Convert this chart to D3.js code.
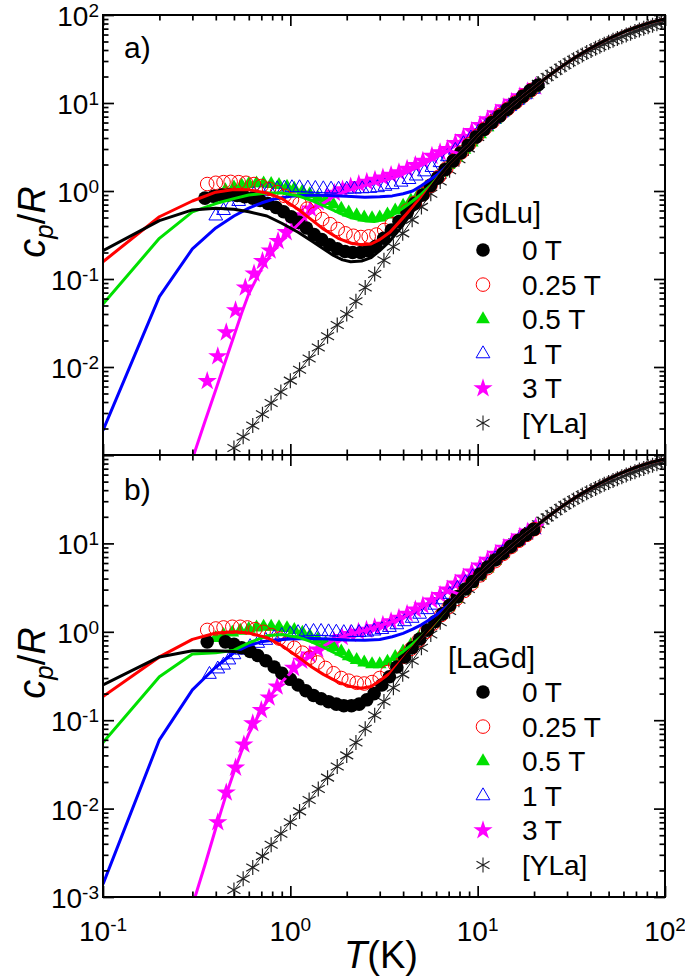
<!DOCTYPE html>
<html><head><meta charset="utf-8">
<script src="https://cdn.jsdelivr.net/npm/d3@7"></script>
<style>body{margin:0;background:#fff} svg{display:block} text{font-family:Arial,"Liberation Sans",sans-serif;fill:#000}</style>
</head><body><svg id="c" width="685" height="979"></svg>
<script>
// ---------------- DATA (T in K, cp/R) ----------------
const xMajor = [0.1, 1, 10, 100];
const xMajorExp = ["-1", "0", "1", "2"];
const yMajor = [0.001, 0.01, 0.1, 1, 10, 100];
const yMajorExp = ["-3", "-2", "-1", "0", "1", "2"];
const panelNames = ["a)", "b)"];
const legendTitles = ["[GdLu]", "[LaGd]"];
const seriesLabels = ["0 T", "0.25 T", "0.5 T", "1 T", "3 T", "[YLa]"];

// lattice reference [YLa] (both panels)
const lattice = [[0.50,0.0012],[0.56,0.00161],[0.63,0.00216],[0.71,0.0029],[0.79,0.0039],[0.89,0.0052],[1.00,0.0070],[1.12,0.0093],[1.26,0.0125],[1.41,0.0167],[1.58,0.0224],[1.78,0.030],[2.00,0.040],[2.24,0.056],[2.51,0.080],[2.82,0.114],[3.16,0.163],[3.55,0.233],[3.98,0.33],[4.47,0.47],[5.01,0.66],[5.62,0.93],[6.31,1.28],[7.08,1.72],[7.94,2.3],[8.91,3.05],[10.0,4.1],[11.2,5.3],[12.6,6.8],[14.1,8.4],[15.8,10.3],[17.8,12.6],[20.0,15.0],[21.1,16.5],[22.3,18.1],[23.5,19.7],[24.8,21.4],[26.2,23.3],[27.7,25.2],[29.2,27.1],[30.8,29.0],[32.5,31.0],[34.3,33.1],[36.2,35.2],[38.2,37.4],[40.3,39.6],[42.6,41.9],[44.9,44.2],[47.4,46.6],[50.0,49.0],[52.8,51.5],[55.7,54.0],[58.8,56.6],[62.1,59.3],[65.5,62.0],[69.1,64.8],[73.0,67.6],[77.0,70.5],[81.3,73.5],[85.8,76.5],[90.5,79.6],[95.6,82.8],[100,85.5]];

// common high-temperature tail of all fit curves
const highTail = [[8,2.65],[9,3.35],[10,4.3],[12,6.1],[14,8.1],[16,10.3],[18,12.6],[20,15.0],[22.3,18.1],[25,21.8],[28,25.9],[31.6,30.8],[35.5,36.1],[39.8,41.6],[44.7,47.6],[50,53.7],[56,60],[63,66.7],[70.8,73.1],[79.4,79.3],[89,85.1],[100,90.4]];

// ---- panel a) [GdLu] ----
const a_0T = [[0.35,0.83],[0.39,0.87],[0.43,0.90],[0.47,0.90],[0.52,0.89],[0.57,0.86],[0.63,0.83],[0.69,0.78],[0.76,0.72],[0.84,0.65],[0.92,0.58],[1.01,0.51],[1.11,0.44],[1.22,0.38],[1.34,0.32],[1.47,0.28],[1.62,0.245],[1.78,0.22],[1.96,0.205],[2.15,0.2],[2.37,0.2],[2.6,0.21],[2.86,0.235],[3.15,0.29],[3.46,0.36],[3.8,0.45],[4.2,0.57],[4.6,0.72],[5.1,0.9],[5.6,1.15],[6.1,1.4],[6.7,1.75],[7.4,2.2],[8.1,2.7],[8.9,3.3],[9.8,4.1],[10.8,5.0],[11.9,6.0],[13.1,7.1],[14.4,8.5],[15.8,10.0],[17.4,11.9],[19.1,13.9],[21,16.0]];
const a_025T = [[0.36,1.2],[0.40,1.24],[0.44,1.26],[0.48,1.27],[0.53,1.26],[0.58,1.24],[0.64,1.2],[0.7,1.14],[0.77,1.06],[0.85,0.97],[0.93,0.88],[1.02,0.8],[1.12,0.72],[1.23,0.63],[1.35,0.55],[1.48,0.48],[1.63,0.42],[1.79,0.37],[1.97,0.33],[2.17,0.31],[2.38,0.30],[2.62,0.305],[2.88,0.32],[3.17,0.36],[3.48,0.42],[3.83,0.5],[4.2,0.6],[4.6,0.73],[5.1,0.92],[5.6,1.15],[6.2,1.45],[6.8,1.8],[7.5,2.25],[8.2,2.75],[9.0,3.4],[9.9,4.2],[10.9,5.1],[12.0,6.1],[13.2,7.3],[14.5,8.6],[16,10.2],[17.6,12.1],[19.4,14.1]];
const a_05T = [[0.45,1.02],[0.5,1.1],[0.55,1.16],[0.6,1.2],[0.66,1.22],[0.72,1.22],[0.79,1.2],[0.87,1.17],[0.96,1.12],[1.05,1.06],[1.16,0.99],[1.27,0.92],[1.4,0.84],[1.54,0.77],[1.7,0.7],[1.87,0.63],[2.05,0.57],[2.26,0.53],[2.48,0.5],[2.73,0.49],[3.0,0.5],[3.3,0.54],[3.63,0.6],[4.0,0.68],[4.4,0.78],[4.84,0.92],[5.3,1.1],[5.8,1.33],[6.4,1.62],[7.0,1.97],[7.7,2.4],[8.5,2.95],[9.3,3.55],[10.3,4.4],[11.3,5.3],[12.4,6.4],[13.7,7.8],[15,9.2],[16.5,10.8],[18.2,12.6],[20,14.6]];
const a_1T = [[0.4,0.52],[0.44,0.6],[0.48,0.68],[0.53,0.76],[0.58,0.84],[0.64,0.92],[0.7,0.98],[0.77,1.03],[0.85,1.06],[0.93,1.08],[1.02,1.09],[1.12,1.09],[1.24,1.08],[1.36,1.07],[1.5,1.06],[1.65,1.05],[1.81,1.05],[2.0,1.05],[2.2,1.05],[2.42,1.06],[2.66,1.07],[2.92,1.09],[3.2,1.13],[3.5,1.18],[3.9,1.26],[4.3,1.35],[4.7,1.48],[5.2,1.65],[5.7,1.85],[6.3,2.1],[6.9,2.45],[7.6,2.9],[8.4,3.45],[9.2,4.0],[10.1,4.7],[11.1,5.5],[12.2,6.5],[13.4,7.7],[14.8,9.1],[16.3,10.7],[17.9,12.4],[19.7,14.3]];
const a_3T = [[0.36,0.0069],[0.41,0.0132],[0.455,0.0247],[0.51,0.044],[0.575,0.08],[0.64,0.115],[0.71,0.16],[0.78,0.21],[0.86,0.27],[0.95,0.34],[1.05,0.43],[1.16,0.53],[1.28,0.63],[1.41,0.74],[1.56,0.85],[1.72,0.95],[1.9,1.04],[2.1,1.12],[2.32,1.2],[2.56,1.27],[2.83,1.34],[3.12,1.42],[3.45,1.52],[3.8,1.63],[4.2,1.78],[4.65,1.97],[5.1,2.2],[5.7,2.5],[6.3,2.75],[6.9,3.0],[7.6,3.5],[8.4,4.1],[9.3,4.8],[10.3,5.6],[11.3,6.5],[12.5,7.6],[13.8,8.9],[15.2,10.3],[16.8,11.9],[18.5,13.6],[20.4,15.4]];
const a_fit0T = [[0.1,0.21],[0.2,0.46],[0.3,0.61],[0.4,0.635],[0.5,0.62],[0.6,0.58],[0.75,0.52],[0.9,0.43],[1.1,0.34],[1.3,0.27],[1.5,0.22],[1.7,0.185],[1.9,0.165],[2.1,0.157],[2.4,0.16],[2.7,0.175],[3.0,0.21],[3.4,0.27],[3.8,0.36],[4.2,0.48],[4.6,0.62],[5.1,0.82],[5.6,1.08],[6.2,1.45],[7.0,2.0]];
const a_fit025T = [[0.1,0.157],[0.2,0.51],[0.3,0.77],[0.4,0.97],[0.5,1.04],[0.6,1.03],[0.75,0.95],[0.9,0.82],[1.1,0.62],[1.3,0.47],[1.5,0.37],[1.8,0.29],[2.1,0.255],[2.4,0.245],[2.7,0.25],[3.0,0.28],[3.4,0.34],[3.8,0.44],[4.2,0.56],[4.6,0.7],[5.1,0.88],[5.6,1.1],[6.2,1.45],[7.0,2.0]];
const a_fit05T = [[0.1,0.052],[0.2,0.29],[0.3,0.58],[0.4,0.72],[0.5,0.82],[0.6,0.9],[0.75,0.95],[0.9,0.95],[1.1,0.88],[1.3,0.78],[1.5,0.68],[1.8,0.57],[2.1,0.5],[2.5,0.46],[2.8,0.45],[3.1,0.47],[3.5,0.53],[4.0,0.64],[4.5,0.77],[5.0,0.92],[5.6,1.15],[6.2,1.47],[7.0,2.0]];
const a_fit1T = [[0.1,0.0019],[0.2,0.063],[0.3,0.22],[0.4,0.38],[0.5,0.52],[0.6,0.64],[0.7,0.73],[0.8,0.8],[1.0,0.87],[1.3,0.9],[1.6,0.89],[2.0,0.87],[2.5,0.85],[3.0,0.86],[3.5,0.88],[4.0,0.93],[4.5,1.0],[5.0,1.15],[5.5,1.32],[6.0,1.5],[7.0,2.0]];
const a_fit3T = [[0.305,0.001],[0.35,0.0024],[0.4,0.0055],[0.45,0.0116],[0.5,0.0225],[0.55,0.041],[0.6,0.068],[0.7,0.13],[0.8,0.2],[0.9,0.27],[1.0,0.34],[1.2,0.5],[1.4,0.66],[1.7,0.86],[2.0,1.0],[2.5,1.15],[3.0,1.27],[3.5,1.4],[4.0,1.55],[5.0,1.95],[6.0,2.4],[7.0,2.9]];

// ---- panel b) [LaGd] ----
const b_0T = [[0.36,0.77],[0.45,0.77],[0.5,0.72],[0.55,0.66],[0.61,0.6],[0.67,0.54],[0.74,0.47],[0.82,0.4],[0.9,0.34],[1.0,0.29],[1.1,0.25],[1.21,0.215],[1.33,0.19],[1.46,0.175],[1.6,0.162],[1.76,0.152],[1.93,0.146],[2.12,0.146],[2.33,0.152],[2.56,0.17],[2.8,0.2],[3.08,0.25],[3.38,0.31],[3.7,0.4],[4.07,0.52],[4.47,0.66],[4.9,0.83],[5.4,1.05],[5.9,1.3],[6.5,1.6],[7.1,2.0],[7.8,2.5],[8.6,3.05],[9.4,3.7],[10.3,4.5],[11.3,5.4],[12.4,6.5],[13.6,7.7],[15,9.2],[16.5,10.8],[18.1,12.5],[19.9,14.4]];
const b_025T = [[0.36,1.05],[0.40,1.09],[0.44,1.12],[0.49,1.14],[0.54,1.14],[0.59,1.12],[0.65,1.07],[0.72,1.0],[0.79,0.92],[0.87,0.84],[0.96,0.75],[1.05,0.66],[1.16,0.58],[1.27,0.51],[1.4,0.45],[1.54,0.39],[1.7,0.34],[1.87,0.3],[2.05,0.28],[2.26,0.265],[2.48,0.26],[2.73,0.27],[3.0,0.3],[3.3,0.35],[3.63,0.42],[4.0,0.52],[4.4,0.64],[4.84,0.8],[5.3,1.0],[5.8,1.24],[6.4,1.55],[7.0,1.9],[7.7,2.35],[8.5,2.9],[9.3,3.5],[10.3,4.35],[11.3,5.25],[12.4,6.3],[13.7,7.6],[15.1,9.1],[16.6,10.7],[18.3,12.5],[20.1,14.5]];
const b_05T = [[0.4,0.85],[0.44,0.92],[0.49,0.98],[0.54,1.03],[0.6,1.08],[0.66,1.12],[0.72,1.14],[0.79,1.14],[0.87,1.13],[0.96,1.1],[1.05,1.05],[1.16,0.98],[1.27,0.9],[1.4,0.82],[1.54,0.74],[1.7,0.67],[1.87,0.6],[2.05,0.53],[2.26,0.48],[2.48,0.45],[2.73,0.43],[3.0,0.43],[3.3,0.46],[3.63,0.52],[4.0,0.6],[4.4,0.71],[4.84,0.85],[5.3,1.03],[5.8,1.25],[6.4,1.55],[7.0,1.9],[7.7,2.35],[8.5,2.9],[9.3,3.5],[10.3,4.3],[11.3,5.2],[12.4,6.3],[13.7,7.6],[15,9.0],[16.5,10.6],[18.2,12.3],[20,14.2]];
const b_1T = [[0.37,0.33],[0.41,0.38],[0.44,0.42],[0.47,0.48],[0.5,0.55],[0.55,0.62],[0.61,0.68],[0.67,0.74],[0.74,0.8],[0.82,0.86],[0.9,0.91],[1.0,0.95],[1.1,0.98],[1.21,1.0],[1.33,1.01],[1.46,1.01],[1.6,1.0],[1.76,0.99],[1.93,0.98],[2.12,0.98],[2.33,0.98],[2.56,0.99],[2.8,1.02],[3.08,1.06],[3.38,1.12],[3.7,1.2],[4.07,1.3],[4.47,1.42],[4.9,1.58],[5.4,1.78],[5.9,2.0],[6.5,2.3],[7.1,2.65],[7.8,3.1],[8.6,3.6],[9.4,4.2],[10.3,4.9],[11.3,5.7],[12.4,6.7],[13.6,7.9],[15,9.3],[16.5,10.8],[18.1,12.5],[19.9,14.4]];
const b_3T = [[0.41,0.007],[0.455,0.0152],[0.51,0.029],[0.565,0.053],[0.63,0.092],[0.7,0.13],[0.77,0.18],[0.85,0.24],[0.94,0.31],[1.04,0.39],[1.15,0.47],[1.27,0.55],[1.4,0.63],[1.55,0.71],[1.71,0.79],[1.89,0.87],[2.09,0.94],[2.31,1.0],[2.55,1.05],[2.82,1.12],[3.12,1.2],[3.45,1.31],[3.8,1.44],[4.2,1.6],[4.65,1.78],[5.1,1.98],[5.7,2.25],[6.3,2.6],[6.9,3.0],[7.6,3.5],[8.4,4.1],[9.3,4.8],[10.3,5.6],[11.3,6.5],[12.5,7.6],[13.8,8.9],[15.2,10.3],[16.8,11.9],[18.5,13.6],[20.4,15.4]];
const b_fit0T = [[0.1,0.25],[0.2,0.52],[0.3,0.61],[0.4,0.61],[0.5,0.6],[0.6,0.57],[0.7,0.5],[0.8,0.41],[0.9,0.34],[1.0,0.29],[1.2,0.215],[1.4,0.18],[1.6,0.16],[1.9,0.145],[2.1,0.143],[2.4,0.152],[2.7,0.18],[3.0,0.23],[3.4,0.31],[3.8,0.42],[4.2,0.55],[4.6,0.69],[5.0,0.86],[5.5,1.1],[6.2,1.45],[7.0,1.95]];
const b_fit025T = [[0.1,0.185],[0.2,0.52],[0.3,0.82],[0.4,0.97],[0.5,1.0],[0.6,0.97],[0.75,0.86],[0.9,0.7],[1.1,0.52],[1.3,0.4],[1.5,0.33],[1.8,0.27],[2.1,0.24],[2.4,0.23],[2.7,0.24],[3.0,0.28],[3.4,0.34],[3.8,0.44],[4.2,0.56],[4.6,0.7],[5.1,0.9],[5.6,1.12],[6.2,1.45],[7.0,1.95]];
const b_fit05T = [[0.1,0.056],[0.2,0.31],[0.3,0.56],[0.4,0.58],[0.5,0.62],[0.6,0.75],[0.75,0.9],[0.9,0.93],[1.1,0.87],[1.3,0.77],[1.5,0.67],[1.8,0.55],[2.1,0.47],[2.5,0.42],[2.8,0.41],[3.1,0.43],[3.5,0.49],[4.0,0.6],[4.5,0.73],[5.0,0.88],[5.6,1.1],[6.2,1.42],[7.0,1.95]];
const b_fit1T = [[0.1,0.0014],[0.2,0.06],[0.3,0.22],[0.4,0.4],[0.5,0.58],[0.6,0.7],[0.7,0.77],[0.8,0.8],[1.0,0.83],[1.3,0.84],[1.6,0.83],[2.0,0.81],[2.5,0.8],[3.0,0.82],[3.5,0.88],[4.0,0.96],[4.5,1.07],[5.0,1.2],[5.5,1.36],[6.0,1.55],[7.0,2.0]];
const b_fit3T = [[0.31,0.001],[0.35,0.0023],[0.4,0.006],[0.45,0.0135],[0.5,0.026],[0.55,0.045],[0.6,0.07],[0.7,0.13],[0.8,0.2],[0.9,0.27],[1.0,0.34],[1.2,0.5],[1.4,0.63],[1.7,0.8],[2.0,0.92],[2.5,1.04],[3.0,1.17],[3.5,1.3],[4.0,1.45],[5.0,1.9],[6.0,2.4],[7.0,2.95]];

// ---------------- LAYOUT ----------------
const colors = {k:"#000000", r:"#ff0000", g:"#00e000", b:"#0000ff", m:"#ff00ff", y:"#222222"};
const svg = d3.select("#c");
const x = d3.scaleLog().domain([0.1, 100]).range([103, 665]);
const panels = [
  {top:15, bottom:455, data:[a_0T,a_025T,a_05T,a_1T,a_3T], fits:[a_fit0T,a_fit025T,a_fit05T,a_fit1T,a_fit3T],
   yLabels:[0.01,0.1,1,10,100], legendY:250, titleY:223, titleX:454, labelY:58, ytitleY:222},
  {top:455, bottom:897, data:[b_0T,b_025T,b_05T,b_1T,b_3T], fits:[b_fit0T,b_fit025T,b_fit05T,b_fit1T,b_fit3T],
   yLabels:[0.001,0.01,0.1,1,10], legendY:692, titleY:668, titleX:448, labelY:500, ytitleY:663}
];

function minorTicks(lo, hi){
  const out=[];
  for(let e=Math.round(Math.log10(lo)); e<Math.round(Math.log10(hi)); e++)
    for(let m=2;m<=9;m++) out.push(m*Math.pow(10,e));
  return out;
}
const xMinor = minorTicks(0.1,100);
const yMinor = minorTicks(0.001,100);

function asteriskPath(s){
  const a = s*Math.cos(Math.PI/6), b = s*Math.sin(Math.PI/6);
  return `M0,${-s}L0,${s}M${-a},${-b}L${a},${b}M${-a},${b}L${a},${-b}`;
}
const sym = {
  circle: d3.symbol().type(d3.symbolCircle).size(145)(),
  tri: d3.symbol().type(d3.symbolTriangle).size(82)(),
  star: d3.symbol().type(d3.symbolStar).size(115)(),
  ast: asteriskPath(7.5)
};
const styles = [
  {p:sym.circle, fill:colors.k, stroke:"none", sw:0},
  {p:sym.circle, fill:"none", stroke:colors.r, sw:1},
  {p:sym.tri, fill:colors.g, stroke:"none", sw:0},
  {p:sym.tri, fill:"none", stroke:colors.b, sw:1},
  {p:sym.star, fill:colors.m, stroke:"none", sw:0},
  {p:sym.ast, fill:"none", stroke:colors.y, sw:1.1}
];
const fitColors = [colors.k, colors.r, colors.g, colors.b, colors.m];

panels.forEach((P,pi)=>{
  const y = d3.scaleLog().domain([0.001,100]).range([P.bottom, P.top]);
  const g = svg.append("g");
  const clipId = "clip"+pi;
  svg.append("clipPath").attr("id",clipId).append("rect")
    .attr("x",103).attr("y",P.top).attr("width",562).attr("height",P.bottom-P.top);
  const plot = g.append("g").attr("clip-path",`url(#${clipId})`);
  const line = d3.line().x(d=>x(d[0])).y(d=>y(d[1]));

  // lattice thin line + asterisks
  plot.append("path").attr("d",line(lattice)).attr("fill","none").attr("stroke","#000").attr("stroke-width",0.9);
  plot.selectAll(".ast").data(lattice).enter().append("path")
    .attr("d",sym.ast).attr("transform",d=>`translate(${x(d[0])},${y(d[1])})`)
    .attr("fill","none").attr("stroke",colors.y).attr("stroke-width",1.2);

  // data markers (drawn 3T, 0.5T, 1T, 0.25T, 0T)
  [4,2,3,1,0].forEach(si=>{
    const st = styles[si];
    plot.append("g").selectAll("path").data(P.data[si]).enter().append("path")
      .attr("d",st.p).attr("transform",d=>`translate(${x(d[0])},${y(d[1])})`)
      .attr("fill",st.fill).attr("stroke",st.stroke).attr("stroke-width",st.sw);
  });

  // fit lines
  [4,3,2,1,0].forEach(si=>{
    const pts = P.fits[si].concat(highTail);
    plot.append("path").attr("d",line(pts)).attr("fill","none")
      .attr("stroke",fitColors[si]).attr("stroke-width",3).attr("stroke-linejoin","round");
  });

  // axes (inward ticks)
  const axG = g.append("g");
  const mk = (axis, tx, ty) => {
    const a = axG.append("g").attr("transform",`translate(${tx},${ty})`).call(axis);
    a.select(".domain").remove();
    a.selectAll("line").attr("stroke","#000").attr("stroke-width",1.7);
    a.selectAll("text").remove();
  };
  mk(d3.axisBottom(x).tickValues(xMajor).tickSize(-11), 0, P.bottom);
  mk(d3.axisBottom(x).tickValues(xMinor).tickSize(-5.5), 0, P.bottom);
  mk(d3.axisTop(x).tickValues(xMajor).tickSize(-11), 0, P.top);
  mk(d3.axisTop(x).tickValues(xMinor).tickSize(-5.5), 0, P.top);
  mk(d3.axisLeft(y).tickValues(yMajor).tickSize(-11), 103, 0);
  mk(d3.axisLeft(y).tickValues(yMinor).tickSize(-5.5), 103, 0);
  mk(d3.axisRight(y).tickValues(yMajor).tickSize(-11), 665, 0);
  mk(d3.axisRight(y).tickValues(yMinor).tickSize(-5.5), 665, 0);
  g.append("rect").attr("x",103).attr("y",P.top).attr("width",562).attr("height",P.bottom-P.top)
    .attr("fill","none").attr("stroke","#000").attr("stroke-width",2);

  // y tick labels
  P.yLabels.forEach(v=>{
    const e = yMajorExp[yMajor.indexOf(v)];
    const t = g.append("text").attr("x",99).attr("y",y(v)+11).attr("text-anchor","end").attr("font-size",28);
    t.append("tspan").text("10");
    t.append("tspan").attr("dy",-9).attr("font-size",19).text(e);
  });

  // panel label
  g.append("text").attr("x",124).attr("y",P.labelY).attr("font-size",30).text(panelNames[pi]);

  // y title
  const yt = g.append("text").attr("transform",`translate(45,${P.ytitleY}) rotate(-90)`)
    .attr("text-anchor","middle").attr("font-size",38);
  yt.append("tspan").attr("font-style","italic").text("c");
  yt.append("tspan").attr("font-style","italic").attr("font-size",26).attr("dy",8).text("p");
  yt.append("tspan").attr("dy",-8).text("/");
  yt.append("tspan").attr("font-style","italic").text("R");

  // legend
  g.append("text").attr("x",P.titleX).attr("y",P.titleY).attr("font-size",29).text(legendTitles[pi]);
  seriesLabels.forEach((lab,i)=>{
    const cy = P.legendY + i*34.6;
    const st = styles[i];
    g.append("path").attr("d",st.p).attr("transform",`translate(483,${cy})`)
      .attr("fill",st.fill).attr("stroke",st.stroke).attr("stroke-width",st.sw);
    g.append("text").attr("x",522).attr("y",cy+10).attr("font-size",28).text(lab);
  });
});

// x tick labels
const xb = 897;
xMajor.forEach((v,i)=>{
  const t = svg.append("text").attr("x",x(v)).attr("y",xb+44).attr("text-anchor","middle").attr("font-size",28);
  t.append("tspan").text("10");
  t.append("tspan").attr("dy",-10).attr("font-size",19).text(xMajorExp[i]);
});
// x title
const xt = svg.append("text").attr("x",381).attr("y",968).attr("text-anchor","middle").attr("font-size",38);
xt.append("tspan").attr("font-style","italic").text("T");
xt.append("tspan").text("(K)");
</script></body></html>
